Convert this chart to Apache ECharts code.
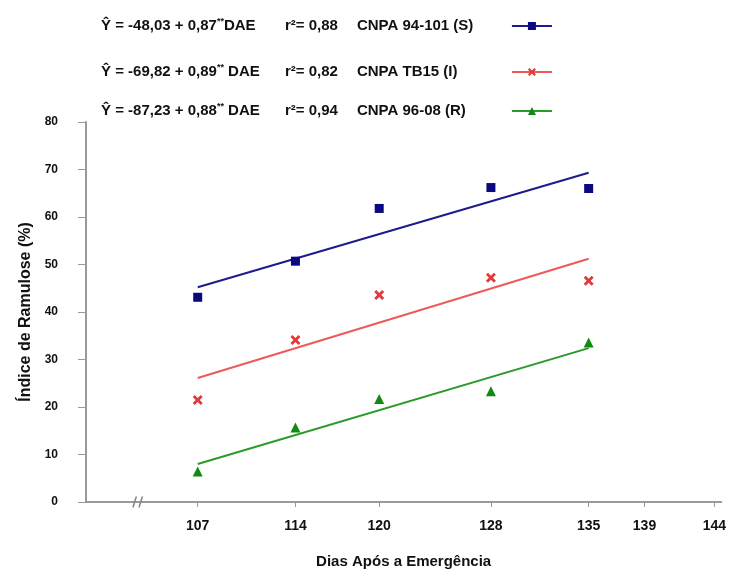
<!DOCTYPE html>
<html>
<head>
<meta charset="utf-8">
<script src="https://cdn.jsdelivr.net/npm/echarts@6/dist/echarts.min.js"></script>
<style>
    html, body { margin: 0; padding: 0; background: #fff; }
    #chart { width: 729px; height: 578px; }
</style>
</head>
<body>
<div id="chart"></div>
<script>
// dias após a emergência (pontos observados)
const days = [107, 114, 120, 128, 135]
// rótulos do eixo x
const tickDays = [107, 114, 120, 128, 135, 139, 144]
const yTicks = [0, 10, 20, 30, 40, 50, 60, 70, 80]

// índice de ramulose observado (%)
const susceptible = [43.1, 50.7, 61.8, 66.2, 66.0]
const intermediate = [21.5, 34.1, 43.6, 47.2, 46.6]
const resistant = [6.4, 15.7, 21.7, 23.3, 33.6]

// retas ajustadas (extremos)
const fitDays = [107, 135]
const fitSusceptible = [45.2, 69.3]
const fitIntermediate = [26.1, 51.2]
const fitResistant = [8.0, 32.4]

const cultivars = ['CNPA 94-101 (S)', 'CNPA TB15 (I)', 'CNPA 96-08 (R)']
const equations = ['Ŷ = -48,03 + 0,87', 'Ŷ = -69,82 + 0,89', 'Ŷ = -87,23 + 0,88']
const equationTails = ['DAE', ' DAE', ' DAE']
const rSquared = ['0,88', '0,82', '0,94']

const FONT = "'Liberation Sans', Arial, sans-serif"
const colors = ['#0a0a80', '#e03a3a', '#118a11']
const lineColors = ['#1c1c8c', '#ee5a5a', '#2a9a2a']
const crossPath = 'path://M2,0 L5,3 L8,0 L10,2 L7,5 L10,8 L8,10 L5,7 L2,10 L0,8 L3,5 L0,2 Z'
const symbols = ['rect', crossPath, 'triangle']
const observed = [susceptible, intermediate, resistant]
const fitted = [fitSusceptible, fitIntermediate, fitResistant]
const legendTops = [12, 58, 97]

const pairs = (xs, ys) => xs.map((x, i) => [x, ys[i]])

const chart = echarts.init(document.getElementById('chart'))

const fitSeries = cultivars.map((name, i) => ({
    name,
    type: 'line',
    data: pairs(fitDays, fitted[i]),
    symbol: symbols[i],
    showSymbol: false,
    symbolSize: 8,
    silent: true,
    lineStyle: { color: lineColors[i], width: 2 },
    itemStyle: { color: colors[i] },
    z: 2
}))

const pointSeries = cultivars.map((name, i) => ({
    name,
    type: 'scatter',
    data: pairs(days, observed[i]),
    symbol: symbols[i],
    symbolSize: i === 0 ? 9 : 10,
    itemStyle: { color: colors[i], opacity: 1 },
    z: 3
}))

// quebra do eixo x
pointSeries[0].markPoint = {
    silent: true,
    symbol: 'path://M3,0 L4.5,0 L1.5,10 L0,10 Z M8.5,0 L10,0 L7,10 L5.5,10 Z',
    symbolSize: [11, 11],
    itemStyle: { color: '#888' },
    label: { show: false },
    data: [{ coord: [102.7, 0] }]
}

const legendText = { fontFamily: FONT, fontWeight: 'bold', fontSize: 15, color: '#111', lineHeight: 18, align: 'left' }

// uma legenda por linha (espaçamento desigual no original)
const legends = cultivars.map((name, i) => ({
    orient: 'vertical',
    left: 96,
    top: legendTops[i],
    align: 'right',
    itemWidth: 40,
    itemHeight: 10,
    data: [name],
    formatter: (n) => {
        const k = cultivars.indexOf(n)
        return '{a|' + equations[k] + '}{s|**}{b|' + equationTails[k] + '}' +
            '{r|r²= ' + rSquared[k] + '}{n|' + n + '}'
    },
    textStyle: {
        ...legendText,
        rich: {
            a: { ...legendText },
            s: { ...legendText, fontSize: 9, verticalAlign: 'top' },
            b: { ...legendText, width: 61 },
            r: { ...legendText, width: 72 },
            n: { ...legendText, width: 150 }
        }
    }
}))

chart.setOption({
    animation: false,
    backgroundColor: '#fff',
    textStyle: { fontFamily: FONT },
    grid: { left: 86, right: 4, top: 122, bottom: 76 },
    legend: legends,
    xAxis: {
        type: 'value',
        min: 99,
        max: 144.5,
        name: 'Dias Após a Emergência',
        nameLocation: 'middle',
        nameGap: 52,
        nameTextStyle: { fontFamily: FONT, fontWeight: 'bold', fontSize: 15, color: '#111' },
        splitLine: { show: false },
        axisLine: { lineStyle: { color: '#999', width: 2 } },
        axisTick: { customValues: tickDays, length: 5, lineStyle: { color: '#999', width: 1 } },
        axisLabel: {
            customValues: tickDays,
            margin: 17,
            fontFamily: FONT,
            fontWeight: 'bold',
            fontSize: 14,
            color: '#111'
        }
    },
    yAxis: {
        type: 'value',
        min: 0,
        max: 80,
        interval: 10,
        name: 'Índice de Ramulose (%)',
        nameLocation: 'middle',
        nameGap: 51,
        nameTextStyle: { fontFamily: FONT, fontWeight: 'bold', fontSize: 16, color: '#111' },
        splitLine: { show: false },
        axisLine: { show: true, lineStyle: { color: '#999', width: 2 } },
        axisTick: { show: true, length: 8, lineStyle: { color: '#999', width: 1 } },
        axisLabel: {
            customValues: yTicks,
            margin: 28,
            fontFamily: FONT,
            fontWeight: 'bold',
            fontSize: 12,
            color: '#111'
        }
    },
    series: [...fitSeries, ...pointSeries]
})

window.addEventListener('resize', () => chart.resize())
</script>
</body>
</html>
